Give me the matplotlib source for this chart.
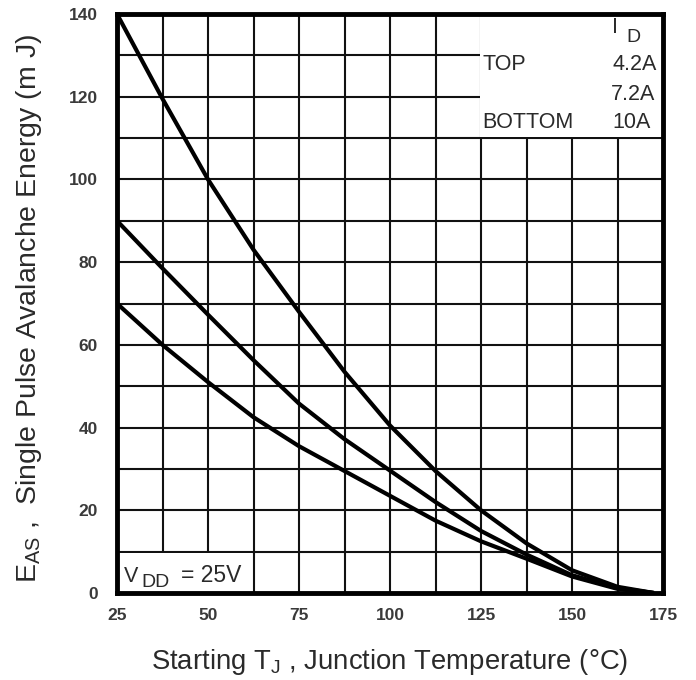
import matplotlib
matplotlib.use("Agg")
import matplotlib.pyplot as plt
from matplotlib.patches import Rectangle
import numpy as np

plt.rcParams['font.family'] = ['Liberation Sans', 'DejaVu Sans']
plt.rcParams['mathtext.fontset'] = 'custom'
plt.rcParams['mathtext.rm'] = 'Liberation Sans'

# ---- data ----
temps = [25, 37.5, 50, 62.5, 75, 87.5, 100, 112.5, 125, 137.5, 150, 162.5, 172.5]
e_top_4_2A = [140, 119.5, 100, 83, 68, 53.5, 40.5, 29.5, 20, 12, 5.5, 1.5, 0]
e_mid_7_2A = [90, 78.5, 67.3, 56.3, 45.8, 37.2, 29.6, 22, 15, 9.3, 4.3, 1.2, 0]
e_bot_10A = [70, 60, 51, 42.5, 35.5, 29.5, 23.5, 17.5, 12.5, 8.3, 4.0, 1.0, 0]

x_ticks = [25, 50, 75, 100, 125, 150, 175]
y_ticks = [0, 20, 40, 60, 80, 100, 120, 140]
legend_labels = ["4.2A", "7.2A", "10A"]

fig = plt.figure(figsize=(6.96, 6.80), dpi=100)
ax = fig.add_axes([117/696, 87/680, (663-117)/696, (593-14)/680])

ax.set_xlim(25, 175)
ax.set_ylim(0, 140)

# grid (every 12.5 in x, every 10 in y)
ax.set_xticks(np.arange(25, 175.1, 12.5), minor=True)
ax.set_yticks(np.arange(0, 140.1, 10), minor=True)
ax.set_xticks(x_ticks)
ax.set_yticks(y_ticks)
ax.set_xticklabels([str(v) for v in x_ticks], fontweight='bold')
ax.set_yticklabels([str(v) for v in y_ticks], fontweight='bold')
ax.grid(True, which='both', color='#111111', linewidth=1.5)
ax.set_axisbelow(True)
ax.tick_params(which='both', length=0)
ax.tick_params(axis='x', pad=11, labelsize=12.5, labelcolor='#3a3a3a')
ax.tick_params(axis='y', pad=14, labelsize=12.5, labelcolor='#3a3a3a')

for sp in ax.spines.values():
    sp.set_linewidth(3.5)
    sp.set_color('#000000')

# white boxes covering grid
ax.add_patch(Rectangle((124.7, 110.35), 175 - 124.7, 140 - 110.35,
                       facecolor='white', edgecolor='none', zorder=1))
ax.add_patch(Rectangle((25, 0), 62.5 - 25 - 0.3, 9.65,
                       facecolor='white', edgecolor='none', zorder=1))

for ys in (e_top_4_2A, e_mid_7_2A, e_bot_10A):
    ax.plot(temps, ys, color='black', linewidth=3.0, zorder=3,
            solid_capstyle='butt', solid_joinstyle='round')

txt = dict(fontsize=15.5, color='#2a2a2a', zorder=4)
sub = dict(fontsize=14, color='#2a2a2a', zorder=4)
ax.text(161.8, 135.3, "I", ha='center', va='baseline', **txt)
ax.text(165.0, 133.2, "D", ha='left', va='baseline', **sub)
ax.text(125.3, 126.5, "TOP", ha='left', va='baseline', **txt)
ax.text(173.3, 126.5, legend_labels[0], ha='right', va='baseline', **txt)
ax.text(173.0, 119.2, legend_labels[1], ha='right', va='baseline', **txt)
ax.text(125.3, 112.4, "BOTTOM", ha='left', va='baseline', **txt)
ax.text(171.6, 112.4, legend_labels[2], ha='right', va='baseline', **txt)
ax.text(26.9, 2.7, "V", ha='left', va='baseline', **txt)
ax.text(31.6, 1.4, "DD", ha='left', va='baseline', **sub)
ax.text(42.6, 2.7, "= 25V", ha='left', va='baseline', fontsize=16.5,
        color='#2a2a2a', zorder=4)

fig.text(390/696, 1 - 662/680, r"Starting T$\mathregular{_J}$ , Junction Temperature (°C)",
         ha='center', va='center', fontsize=19.8, color='#2a2a2a')
fig.text(29/696, 1 - 308/680, r"E$\mathregular{_{AS}}$ ,  Single Pulse Avalanche Energy (m J)",
         ha='center', va='center', rotation=90, fontsize=20.5, color='#2a2a2a')

fig.savefig("out.png", dpi=100, facecolor='white')
